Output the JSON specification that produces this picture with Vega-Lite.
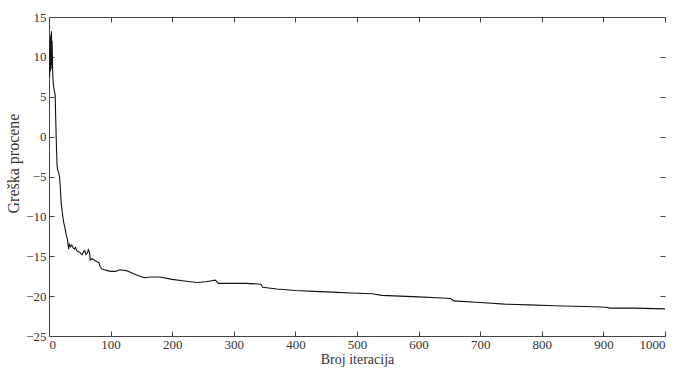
{
  "$schema": "https://vega.github.io/schema/vega-lite/v6.json",
  "width": 616,
  "height": 319,
  "autosize": {"type": "none"},
  "padding": {"left": 49, "top": 17, "right": 16, "bottom": 33},
  "background": "white",
  "config": {
    "view": {"stroke": null},
    "axis": {
      "labelFont": "Liberation Serif",
      "titleFont": "Liberation Serif",
      "labelFontSize": 13,
      "titleFontSize": 14,
      "labelColor": "#333",
      "titleColor": "#333",
      "titleFontWeight": "normal",
      "domainColor": "#444",
      "tickColor": "#444",
      "grid": false,
      "tickSize": -5,
      "format": "d"
    }
  },
  "data": {
    "values": [
      {"i": 1, "e": 7.5}, {"i": 2, "e": 12.5}, {"i": 2.5, "e": 8.2}, {"i": 3, "e": 12.8}, {"i": 3.5, "e": 8.5},
      {"i": 4, "e": 13.2}, {"i": 4.5, "e": 9.0}, {"i": 5, "e": 12.0}, {"i": 6, "e": 8.0}, {"i": 7, "e": 6.6},
      {"i": 8, "e": 6.0}, {"i": 10, "e": 5.2}, {"i": 11, "e": 2.0}, {"i": 12, "e": -1.0}, {"i": 13, "e": -3.5},
      {"i": 14, "e": -4.2}, {"i": 16, "e": -4.6}, {"i": 17, "e": -5.0}, {"i": 18, "e": -6.0}, {"i": 20, "e": -8.5},
      {"i": 22, "e": -9.8}, {"i": 24, "e": -10.8}, {"i": 26, "e": -11.5}, {"i": 28, "e": -12.3}, {"i": 30, "e": -12.9},
      {"i": 31, "e": -13.6}, {"i": 32, "e": -14.1}, {"i": 33, "e": -13.5}, {"i": 35, "e": -13.8}, {"i": 37, "e": -13.6},
      {"i": 39, "e": -13.9}, {"i": 41, "e": -14.1}, {"i": 43, "e": -13.9}, {"i": 45, "e": -14.3}, {"i": 47, "e": -14.4},
      {"i": 50, "e": -14.5}, {"i": 52, "e": -14.7}, {"i": 54, "e": -14.8}, {"i": 56, "e": -14.4}, {"i": 58, "e": -14.3},
      {"i": 60, "e": -14.8}, {"i": 62, "e": -14.6}, {"i": 64, "e": -14.2}, {"i": 66, "e": -14.6}, {"i": 67, "e": -15.5},
      {"i": 70, "e": -15.3}, {"i": 74, "e": -15.5}, {"i": 78, "e": -15.7}, {"i": 81, "e": -15.8}, {"i": 83, "e": -16.3},
      {"i": 86, "e": -16.6}, {"i": 90, "e": -16.7}, {"i": 95, "e": -16.8}, {"i": 100, "e": -16.9}, {"i": 108, "e": -16.9},
      {"i": 115, "e": -16.7}, {"i": 125, "e": -16.8}, {"i": 132, "e": -17.0}, {"i": 140, "e": -17.3}, {"i": 148, "e": -17.5},
      {"i": 155, "e": -17.7}, {"i": 165, "e": -17.6}, {"i": 180, "e": -17.6}, {"i": 200, "e": -17.9}, {"i": 220, "e": -18.1},
      {"i": 240, "e": -18.3}, {"i": 255, "e": -18.2}, {"i": 270, "e": -18.0}, {"i": 275, "e": -18.4}, {"i": 300, "e": -18.4},
      {"i": 320, "e": -18.4}, {"i": 344, "e": -18.5}, {"i": 347, "e": -18.9}, {"i": 370, "e": -19.1}, {"i": 400, "e": -19.3},
      {"i": 430, "e": -19.4}, {"i": 460, "e": -19.5}, {"i": 490, "e": -19.6}, {"i": 525, "e": -19.7}, {"i": 540, "e": -19.9},
      {"i": 570, "e": -20.0}, {"i": 600, "e": -20.1}, {"i": 630, "e": -20.2}, {"i": 652, "e": -20.3}, {"i": 657, "e": -20.6},
      {"i": 700, "e": -20.8}, {"i": 740, "e": -21.0}, {"i": 780, "e": -21.1}, {"i": 820, "e": -21.2}, {"i": 870, "e": -21.3},
      {"i": 905, "e": -21.4}, {"i": 910, "e": -21.5}, {"i": 950, "e": -21.5}, {"i": 1000, "e": -21.6}
    ]
  },
  "layer": [
    {
      "mark": {"type": "line", "color": "#111", "strokeWidth": 1.1},
      "encoding": {
        "x": {
          "field": "i", "type": "quantitative",
          "scale": {"domain": [0, 1000], "nice": false},
          "axis": {"orient": "bottom", "title": "Broj iteracija", "values": [0,100,200,300,400,500,600,700,800,900,1000], "labelPadding": 7, "titlePadding": 1}
        },
        "y": {
          "field": "e", "type": "quantitative",
          "scale": {"domain": [-25, 15], "nice": false},
          "axis": {"orient": "left", "title": "Greška procene", "values": [-25,-20,-15,-10,-5,0,5,10,15], "labelPadding": 8, "titleFontSize": 16, "titlePadding": 4, "titleY": 146}
        }
      }
    },
    {
      "mark": {"type": "line", "opacity": 0},
      "encoding": {
        "x": {
          "field": "i", "type": "quantitative",
          "axis": {"orient": "top", "title": null, "labels": false, "values": [0,100,200,300,400,500,600,700,800,900,1000]}
        },
        "y": {
          "field": "e", "type": "quantitative",
          "axis": {"orient": "right", "title": null, "labels": false, "domain": false, "values": [-25,-20,-15,-10,-5,0,5,10,15]}
        }
      }
    }
  ],
  "resolve": {"axis": {"x": "independent", "y": "independent"}}
}
